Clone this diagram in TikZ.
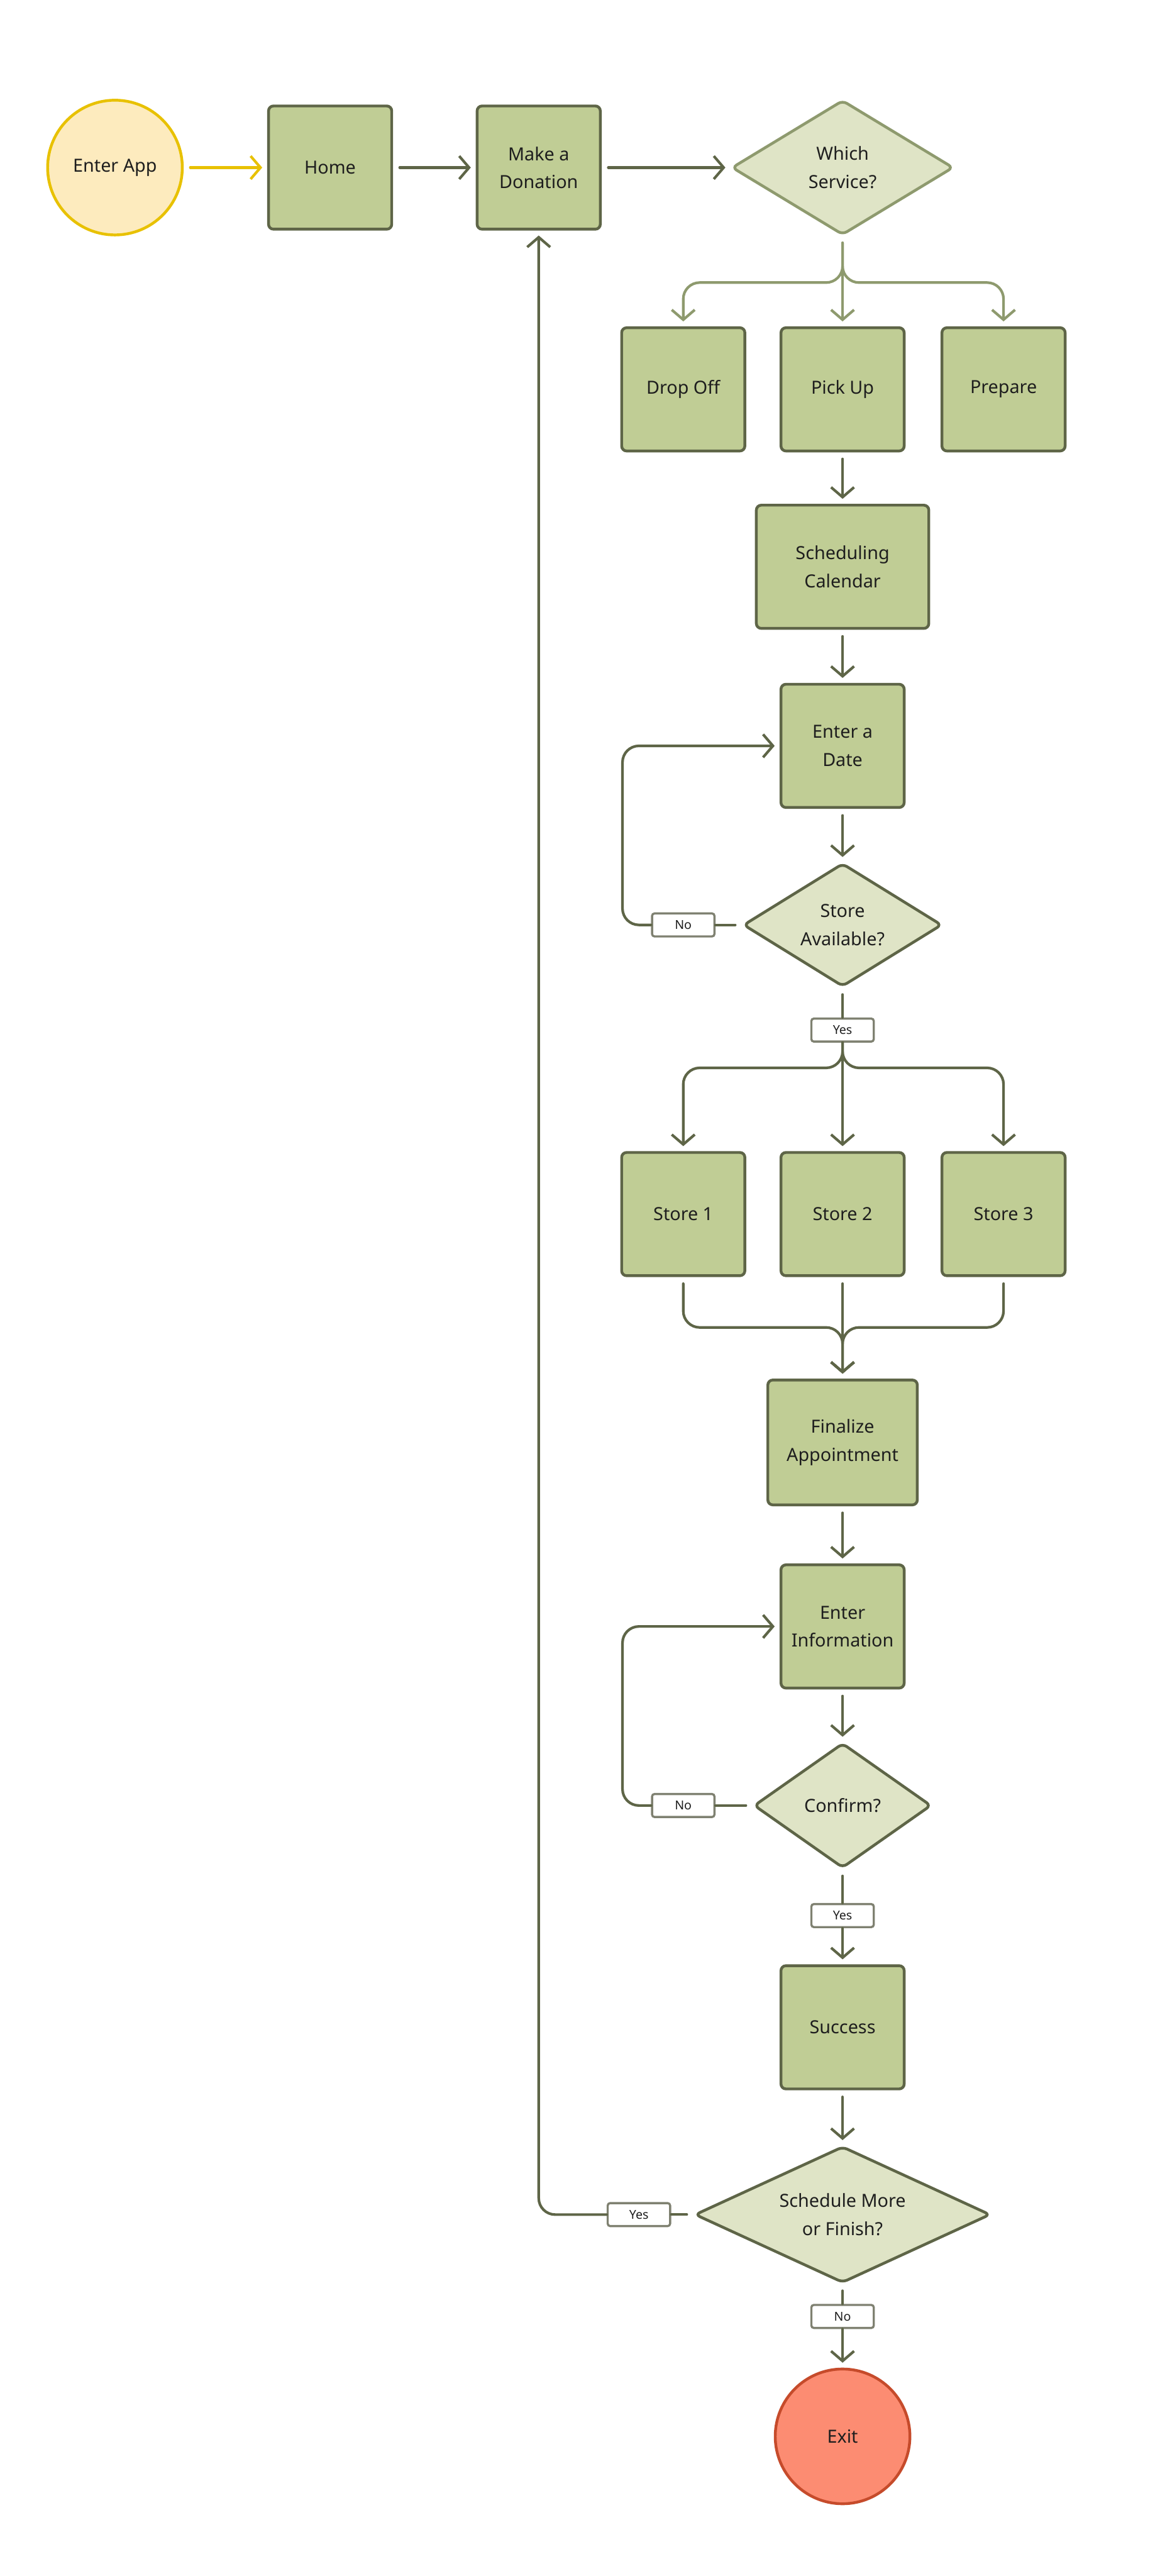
\documentclass[tikz,border=0pt]{standalone}
\usepackage{fontspec}
\setmainfont{Noto Sans}
\usetikzlibrary{positioning,arrows.meta,shapes.geometric}

\definecolor{boxfill}{HTML}{C0CD95}
\definecolor{boxline}{HTML}{5E6547}
\definecolor{decfill}{HTML}{DFE4C6}
\definecolor{paleline}{HTML}{8E9A6E}
\definecolor{startfill}{HTML}{FDEBBE}
\definecolor{startline}{HTML}{E8C100}
\definecolor{exitfill}{HTML}{FC8C72}
\definecolor{exitline}{HTML}{C64B2B}
\definecolor{tagline}{HTML}{7F8171}
\definecolor{ink}{HTML}{1E1E1E}

\begin{document}
\begin{tikzpicture}[x=1pt,y=-1pt,
    every node/.style={font=\fontsize{11}{17}\selectfont, text=ink, align=center},
    stepbox/.style={draw=boxline, fill=boxfill, line width=1.7pt, rounded corners=3pt, minimum width=75pt, minimum height=75pt, inner sep=0pt},
    choice/.style={diamond, draw=boxline, fill=decfill, line width=1.7pt, rounded corners=3pt, inner sep=0pt},
    terminal/.style={circle, line width=1.7pt, minimum size=82pt, inner sep=0pt},
    tag/.style={draw=tagline, fill=white, line width=1.3pt, rounded corners=1.5pt, minimum width=38pt, minimum height=14pt, inner sep=0pt, font=\fontsize{7.5}{8}\selectfont},
    flow/.style={draw=boxline, line width=1.6pt, rounded corners=10pt, line cap=round},
    arr/.style={-{Straight Barb[length=6pt,width=14pt]}, shorten >=3pt},
    gap/.style={shorten <=4pt},
  ]
  \fill[white] (0,0) rectangle (703,1568);
  \useasboundingbox (0,0) rectangle (703,1568);

  % Top row
  \node[terminal, draw=startline, fill=startfill] (enter) at (70,102) {Enter App};
  \node[stepbox] (home) at (201,102) {Home};
  \node[stepbox] (donate) at (328,102) {Make a\\Donation};
  \node[choice, draw=paleline, shape aspect=1.65, minimum width=135pt, minimum height=82pt] (service) at (513,102) {Which\\Service?};

  % Services
  \node[stepbox] (dropoff) at (416,237) {Drop Off};
  \node[stepbox] (pickup) at (513,237) {Pick Up};
  \node[stepbox] (prepare) at (611,237) {Prepare};

  % Date
  \node[stepbox, minimum width=105pt] (calendar) at (513,345) {Scheduling\\Calendar};
  \node[stepbox] (date) at (513,454) {Enter a\\Date};
  \node[choice, shape aspect=1.6, minimum width=121pt, minimum height=75pt] (avail) at (513,563) {Store\\Available?};
  \node[tag] (no1) at (416,563) {No};
  \node[tag] (yes1) at (513,627) {Yes};

  % Stores
  \node[stepbox] (store1) at (416,739) {Store 1};
  \node[stepbox] (store2) at (513,739) {Store 2};
  \node[stepbox] (store3) at (611,739) {Store 3};

  % Appointment
  \node[stepbox, minimum width=91pt, minimum height=76pt] (final) at (513,878) {Finalize\\Appointment};
  \node[stepbox] (info) at (513,990) {Enter\\Information};
  \node[choice, shape aspect=1.4, minimum width=108pt, minimum height=76pt] (confirm) at (513,1099) {Confirm?};
  \node[tag] (no2) at (416,1099) {No};
  \node[tag] (yes2) at (513,1166) {Yes};
  \node[stepbox] (success) at (513,1234) {Success};
  \node[choice, shape aspect=2.17, minimum width=180pt, minimum height=83pt] (more) at (513,1348) {Schedule More\\or Finish?};
  \node[tag] (yes3) at (389,1348) {Yes};
  \node[tag] (no3) at (513,1410) {No};
  \node[terminal, draw=exitline, fill=exitfill] (exit) at (513,1483) {Exit};

  \coordinate (split) at (513,172);
  \coordinate (loop1) at (379,454);
  \coordinate (fork) at (513,650);
  \coordinate (join) at (513,808);
  \coordinate (loop2) at (379,990);

  % Top row links
  \draw[flow, draw=startline, gap, arr] (enter) -- (home);
  \draw[flow, gap, arr] (home) -- (donate);
  \draw[flow, gap, arr] (donate) -- (service);

  % Which service
  \draw[flow, draw=paleline, gap, arr] (service.south) -- (split) -| (dropoff);
  \draw[flow, draw=paleline, gap, arr] (service.south) -- (pickup);
  \draw[flow, draw=paleline, gap, arr] (service.south) -- (split) -| (prepare);

  % Date loop
  \draw[flow, gap, arr] (pickup) -- (calendar);
  \draw[flow, gap, arr] (calendar) -- (date);
  \draw[flow, gap, arr] (date) -- (avail);
  \draw[flow, gap] (avail) -- (no1);
  \draw[flow, arr] (no1.west) -| (loop1) -- (date.west);
  \draw[flow, gap] (avail) -- (yes1);
  \draw[flow, arr] (yes1) -- (fork) -| (store1);
  \draw[flow, arr] (yes1) -- (store2);
  \draw[flow, arr] (yes1) -- (fork) -| (store3);

  % Merge
  \draw[flow, gap, arr] (store1) |- (join) -- (final);
  \draw[flow, gap, arr] (store2) -- (final);
  \draw[flow, gap, arr] (store3) |- (join) -- (final);

  % Confirm loop
  \draw[flow, gap, arr] (final) -- (info);
  \draw[flow, gap, arr] (info) -- (confirm);
  \draw[flow, gap] (confirm) -- (no2);
  \draw[flow, arr] (no2.west) -| (loop2) -- (info.west);
  \draw[flow, gap] (confirm) -- (yes2);
  \draw[flow, arr] (yes2) -- (success);
  \draw[flow, gap, arr] (success) -- (more);

  % Finish
  \draw[flow, gap] (more) -- (yes3);
  \draw[flow, arr] (yes3.west) -| (donate.south);
  \draw[flow, gap] (more) -- (no3);
  \draw[flow, arr] (no3) -- (exit);
\end{tikzpicture}
\end{document}
